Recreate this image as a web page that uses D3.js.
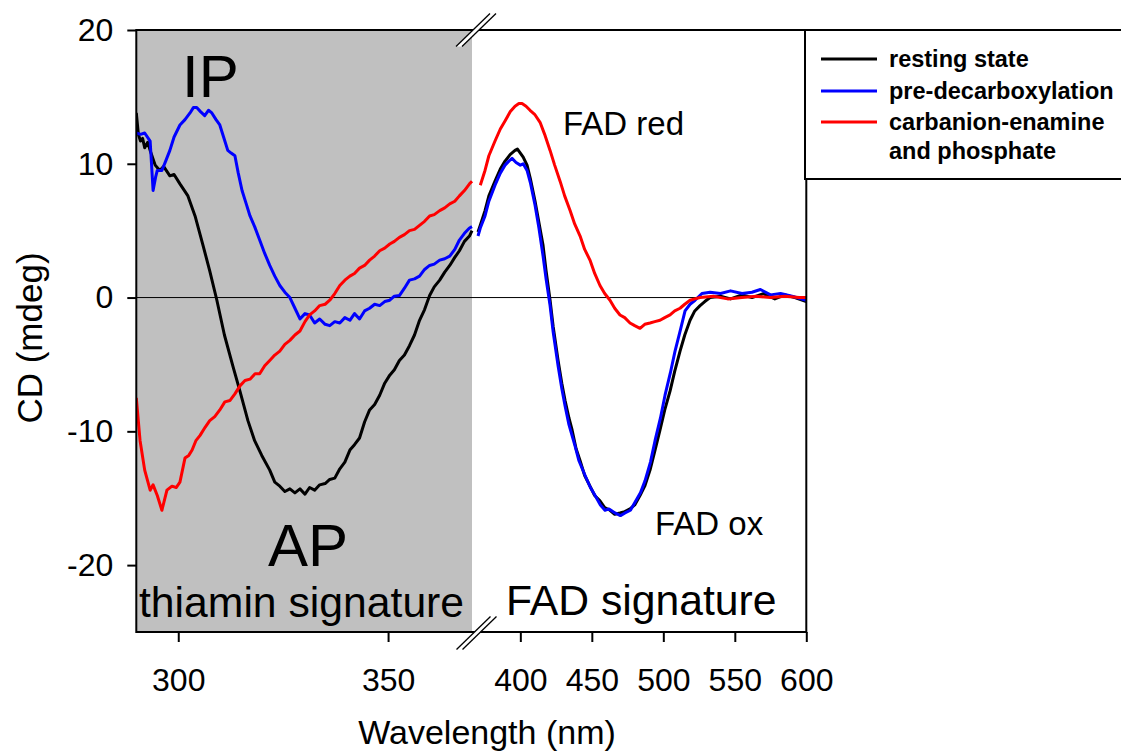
<!DOCTYPE html>
<html><head><meta charset="utf-8">
<script src="https://cdn.jsdelivr.net/npm/d3@7"></script>
<style>body{margin:0;background:#fff}svg{display:block}text{font-family:"Liberation Sans",Arial,sans-serif}</style>
</head><body><svg id="c" width="1121" height="753"></svg>
<script>
// ---- data (wavelength nm, CD mdeg) ----
const leftTicks = [300, 350];
const rightTicks = [400, 450, 500, 550, 600];
const yTicks = [-20, -10, 0, 10, 20];
const seriesNames = ["resting state", "pre-decarboxylation", "carbanion-enamine\nand phosphate"];
const seriesColors = ["#000000", "#0000ff", "#ff0000"];

const restingLeft = [[290,13.8],[290.5,12.2],[291,11.7],[291.5,11.9],[292,11.2],[292.7,11.6],[293.3,11.0],[294.5,9.9],[295.6,9.5],[296.5,9.8],[298,9.1],[299,9.2],[300.4,8.5],[302.3,7.6],[304,6.1],[305.9,3.9],[307.5,2.0],[309.2,-0.2],[311,-2.8],[313,-5.1],[314.7,-7.0],[316.6,-9.2],[318.2,-10.7],[319.9,-11.8],[321.8,-12.9],[323,-13.8],[324.2,-14.1],[325.4,-14.5],[326.6,-14.3],[327.8,-14.6],[329,-14.3],[330.2,-14.7],[331.3,-14.2],[332.5,-14.4],[333.7,-14.0],[335,-13.9],[336.1,-13.6],[337.3,-13.5],[338.5,-12.8],[339.7,-12.3],[340.9,-11.4],[342,-11.0],[343.2,-10.5],[344.4,-9.3],[345.6,-8.4],[346.8,-8.0],[348,-7.3],[349.2,-6.4],[350.4,-5.8],[351.5,-5.4],[352.7,-4.7],[353.9,-4.3],[355.1,-3.6],[356.3,-2.8],[357.5,-1.7],[358.7,-0.9],[359.9,0.15],[361,0.8],[362.3,1.3],[363.5,1.9],[364.7,2.4],[365.9,3.0],[367,3.5],[368.2,4.2],[369.4,4.6],[370,5.0]];
const restingRight = [[370.4,4.9],[372,5.4],[375.3,6.5],[378,7.6],[382.3,8.7],[386,9.6],[389.3,10.2],[393,10.7],[396.3,11.0],[398,11.1],[400,10.8],[402,10.5],[404.7,9.9],[407,8.9],[410.3,7.2],[413,5.6],[415.9,3.9],[418,2.0],[420.8,-0.2],[423,-2.2],[426.4,-4.7],[429,-6.4],[431.3,-7.7],[434,-9.0],[436.2,-9.9],[439,-11.3],[441.8,-12.2],[445,-13.3],[448.7,-14.1],[452,-14.8],[455.7,-15.2],[459,-15.7],[462.7,-15.9],[466,-16.2],[469.7,-16.1],[473,-16.0],[476.7,-15.8],[480,-15.5],[483.7,-14.8],[487,-14.1],[490.7,-12.9],[494,-11.5],[497.7,-9.9],[501,-8.4],[504.7,-7.0],[508,-5.5],[511.7,-4.0],[515,-2.8],[518.7,-1.7],[522,-1.0],[525.7,-0.6],[529,-0.3],[532.7,0],[540,0.1],[547,-0.1],[555,0.2],[562,0],[570,0.3],[578,-0.1],[585,0.2],[592,0],[600,-0.3]];
const preLeft = [[290,12.3],[291,12.2],[292,12.3],[293.3,11.7],[294,8.0],[294.6,9.0],[295,9.5],[296.1,9.5],[297,10.2],[298,11.0],[299,12.0],[300.4,12.9],[301.6,13.3],[302.8,13.8],[303.6,14.2],[304.4,14.2],[305.3,13.9],[306.3,13.6],[307.2,14.0],[308,13.8],[309,13.3],[309.9,12.9],[310.8,12.0],[311.8,11.0],[312.6,10.8],[313.5,10.6],[314.3,9.3],[315.2,8.0],[316.2,7.0],[317.1,6.1],[318.2,5.3],[319.4,4.3],[320.6,3.3],[321.8,2.4],[323,1.6],[324.2,0.9],[325.4,0.4],[326.6,0],[327.8,-0.8],[329,-1.6],[330.2,-1.2],[331.3,-1.3],[332.5,-1.9],[333.7,-1.6],[335,-2.0],[336.1,-2.1],[337.3,-1.8],[338.5,-1.9],[339.7,-1.5],[340.9,-1.7],[342,-1.2],[343.2,-1.6],[344.4,-1.0],[345.6,-0.8],[346.8,-0.5],[348,-0.6],[349.2,-0.3],[350.4,-0.2],[351.5,0.1],[352.7,0.15],[353.9,0.7],[355.1,1.3],[356.3,1.4],[357.5,1.6],[358.7,2.1],[359.9,2.4],[361,2.5],[362.3,2.8],[363.5,2.9],[364.7,3.1],[365.9,3.6],[367,4.3],[368.2,4.8],[369.4,5.2],[370,5.3]];
const preRight = [[370.4,4.6],[372,5.2],[375.3,6.1],[378,7.2],[382.3,8.4],[386,9.3],[389.3,9.9],[392,10.2],[394.2,10.4],[397,10.1],[400,9.9],[402,10.0],[404.7,9.5],[407,8.6],[410.3,6.9],[413,5.2],[415.9,3.1],[418,1.4],[420.8,-0.6],[423,-2.6],[426.4,-5.1],[429,-6.8],[431.3,-8.1],[434,-9.5],[438.3,-11.1],[441,-12.2],[445.3,-13.3],[449,-14.2],[452.3,-14.8],[456,-15.5],[459.2,-15.9],[462,-15.8],[466.2,-16.1],[470,-16.3],[473.2,-16.1],[477,-15.9],[480.2,-15.3],[484,-14.6],[487.2,-13.7],[491,-12.3],[494.2,-10.7],[498,-9.0],[501.2,-7.3],[505,-5.6],[508.2,-4.0],[512,-2.4],[515.2,-1.0],[518.7,-0.5],[522.2,-0.2],[527,0.3],[532.7,0.4],[540,0.3],[547,0.5],[555,0.3],[562,0.4],[567.9,0.6],[575,0.2],[582,0.3],[590,0.1],[600,-0.2]];
const carbLeft = [[290,-7.5],[290.9,-10.7],[292,-12.9],[293.3,-14.4],[294,-14.0],[295,-14.8],[296.1,-15.9],[297.3,-14.4],[298.5,-14.1],[299.5,-14.2],[300.4,-13.8],[301.6,-12.0],[302.5,-11.8],[303.3,-11.4],[304.2,-10.7],[305.2,-10.3],[306.4,-9.7],[307.5,-9.2],[308.7,-8.9],[309.9,-8.4],[311.1,-7.8],[312.3,-7.7],[313.5,-7.2],[314.7,-6.6],[315.9,-6.2],[317.1,-6.1],[318.3,-5.7],[319.4,-5.7],[320.6,-5.1],[321.8,-4.7],[323,-4.3],[324.2,-4.0],[325.4,-3.5],[326.6,-3.2],[327.8,-2.8],[329,-2.5],[330.2,-1.8],[331.3,-1.3],[332.5,-1.0],[333.7,-0.6],[335,-0.5],[336.1,-0.2],[337.3,0.3],[338.5,0.9],[339.7,1.3],[340.9,1.6],[342,1.8],[343.2,2.2],[344.4,2.4],[345.6,2.8],[346.8,3.1],[348,3.5],[349.2,3.7],[350.4,4.0],[351.5,4.2],[352.7,4.5],[353.9,4.7],[355.1,5.0],[356.3,5.1],[357.5,5.4],[358.7,5.7],[359.9,6.1],[361,6.2],[362.3,6.5],[363.5,6.7],[364.7,7.0],[365.9,7.2],[367,7.6],[368.2,8.0],[369.4,8.5],[370,8.7]];
const carbRight = [[372,8.4],[375.3,9.5],[378,10.6],[382.3,11.7],[386,12.6],[389.3,13.2],[393,13.9],[396.3,14.3],[399,14.5],[401.2,14.5],[404,14.3],[406.8,14.0],[410,13.7],[413.8,13.1],[417,12.2],[420.8,11.0],[424,9.9],[427.8,8.7],[431,7.6],[434.8,6.5],[438,5.5],[441.8,4.6],[445,3.6],[448.7,2.8],[452,1.8],[455.7,0.9],[459,0.3],[462.7,-0.2],[466,-0.8],[469.7,-1.3],[473,-1.5],[476.7,-1.9],[480,-2.1],[483.7,-2.3],[487,-2.0],[490.7,-1.9],[494,-1.8],[497.7,-1.7],[501,-1.5],[504.7,-1.3],[508,-1.0],[511.7,-0.8],[515,-0.5],[518.7,-0.2],[522,-0.1],[525.7,0],[535,0.1],[545,-0.1],[555,0],[565,0.1],[575,0],[585,0.1],[595,0],[600,0]];

// ---- layout ----
const L = 136.3, R = 806.3, T = 30, B = 632, BRK = 472;
const FONT = '"Liberation Sans",Arial,sans-serif';
const svg = d3.select("#c");
const xL = d3.scaleLinear().domain([290, 370]).range([L, BRK]);
const xR = d3.scaleLinear().domain([366.2, 600]).range([BRK, R]);
const y = d3.scaleLinear().domain([-25, 20]).range([B, T]);

svg.append("defs").append("clipPath").attr("id","plot").append("rect")
  .attr("x", L).attr("y", T).attr("width", R-L).attr("height", B-T);

// gray thiamin region
svg.append("rect").attr("x", L).attr("y", T).attr("width", BRK-L).attr("height", B-T).attr("fill", "#c0c0c0");
// zero line
svg.append("line").attr("x1", L).attr("x2", R).attr("y1", y(0)).attr("y2", y(0)).attr("stroke","#000").attr("stroke-width",1);

const g = svg.append("g").attr("clip-path","url(#plot)");
const lineL = d3.line().x(d => xL(d[0])).y(d => y(d[1]));
const lineR = d3.line().x(d => xR(d[0])).y(d => y(d[1]));
const segs = [[restingLeft, restingRight],[preLeft, preRight],[carbLeft, carbRight]];
segs.forEach((s, i) => {
  g.append("path").attr("d", lineL(s[0])).attr("fill","none").attr("stroke", seriesColors[i]).attr("stroke-width", 3).attr("stroke-linejoin","round");
  g.append("path").attr("d", lineR(s[1])).attr("fill","none").attr("stroke", seriesColors[i]).attr("stroke-width", 3).attr("stroke-linejoin","round");
});

// frame
svg.append("rect").attr("x", L).attr("y", T).attr("width", R-L).attr("height", B-T).attr("fill","none").attr("stroke","#000").attr("stroke-width",2);

// axes
const fmt = d => String(d);
const axL = d3.axisBottom(xL).tickValues(leftTicks).tickSize(10).tickPadding(26).tickFormat(fmt);
const axR = d3.axisBottom(xR).tickValues(rightTicks).tickSize(10).tickPadding(26).tickFormat(fmt);
const axY = d3.axisLeft(y).tickValues(yTicks).tickSize(9).tickPadding(14).tickFormat(fmt);
[svg.append("g").attr("transform",`translate(0,${B})`).call(axL),
 svg.append("g").attr("transform",`translate(0,${B})`).call(axR),
 svg.append("g").attr("transform",`translate(${L},0)`).call(axY)].forEach(a => {
  a.select(".domain").remove();
  a.selectAll("line").attr("stroke","#000").attr("stroke-width",2);
  a.selectAll("text").attr("font-size",32).attr("fill","#000").style("font-family",FONT);
});

// break marks
function brk(cx, cy) {
  const h = 16.5, w = 17, off = 6;
  svg.append("polygon").attr("points", `${cx-w},${cy+h} ${cx+w},${cy-h} ${cx+w+off},${cy-h} ${cx-w+off},${cy+h}`).attr("fill","#fff");
  [0, off].forEach(o => svg.append("line").attr("x1", cx-w+o).attr("y1", cy+h).attr("x2", cx+w+o).attr("y2", cy-h).attr("stroke","#000").attr("stroke-width",1.3));
}
brk(473, T);
brk(473.5, B + 1);

// axis titles
svg.append("text").attr("x", 487).attr("y", 744).attr("text-anchor","middle").attr("font-size",34).text("Wavelength (nm)");
svg.append("text").attr("transform","translate(42,338) rotate(-90)").attr("text-anchor","middle").attr("font-size",35).text("CD (mdeg)");

// annotations
svg.append("text").attr("x", 182).attr("y", 97).attr("font-size",60).text("IP");
svg.append("text").attr("x", 268).attr("y", 566).attr("font-size",60).text("AP");
svg.append("text").attr("x", 139).attr("y", 617).attr("font-size",42.7).text("thiamin signature");
svg.append("text").attr("x", 506).attr("y", 615).attr("font-size",42.7).text("FAD signature");
svg.append("text").attr("x", 563).attr("y", 135).attr("font-size",33).text("FAD red");
svg.append("text").attr("x", 655).attr("y", 535).attr("font-size",33).text("FAD ox");

// legend
svg.append("rect").attr("x", 805).attr("y", 30).attr("width", 400).attr("height", 149).attr("fill","#fff").attr("stroke","#000").attr("stroke-width",2);
const legY = [59, 91, 122];
seriesNames.forEach((n, i) => {
  svg.append("line").attr("x1", 821).attr("x2", 877).attr("y1", legY[i]).attr("y2", legY[i]).attr("stroke", seriesColors[i]).attr("stroke-width", 3);
  n.split("\n").forEach((t, k) => {
    svg.append("text").attr("x", 889).attr("y", legY[i] + 8 + k*28.5).attr("font-size", 23.5).attr("font-weight","bold").text(t);
  });
});
</script></body></html>
